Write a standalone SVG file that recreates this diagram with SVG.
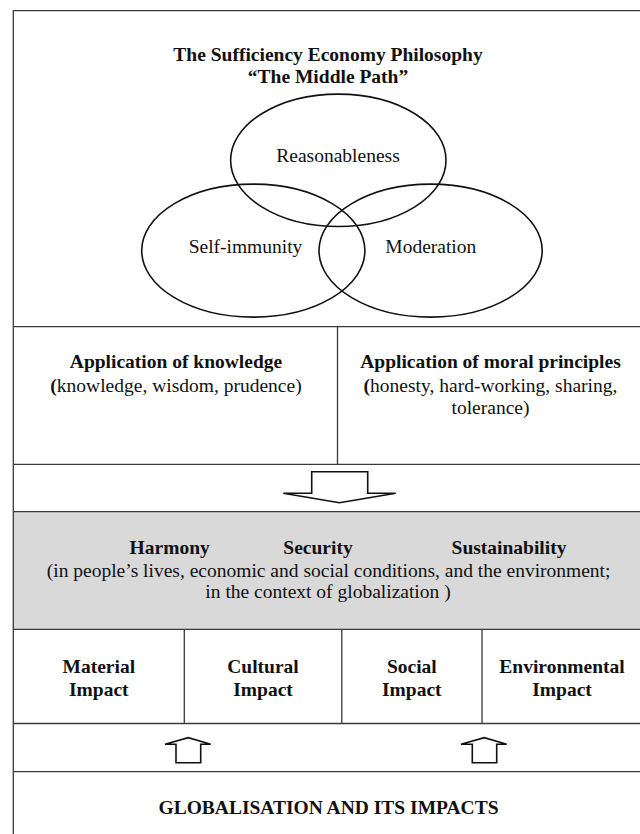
<svg xmlns="http://www.w3.org/2000/svg" width="640" height="834" viewBox="0 0 640 834">
<style>
text{font-family:"Liberation Serif","Times New Roman",serif;font-size:19.5px;fill:#111;text-anchor:middle}
.b{font-weight:bold}
.ln{stroke:#3a3a3a;stroke-width:1.3;fill:none}
.el{stroke:#111;stroke-width:1.6;fill:none}
.ar{stroke:#111;stroke-width:1.6;fill:#fff;stroke-linejoin:miter}
</style>
<rect width="640" height="834" fill="#fff"/>
<g id="frame">
<rect x="13.3" y="511.7" width="630" height="117.6" fill="#d9d9d9"/>
<path class="ln" d="M13.3,840 V10.7 H645"/>
<path class="ln" d="M13.3,326.7 H645 M13.3,464.3 H645 M13.3,511.7 H645 M13.3,629.3 H645 M13.3,723.5 H645 M13.3,771.7 H645"/>
</g>
<g id="philosophy">
<text class="b" x="328" y="61">The Sufficiency Economy Philosophy</text>
<text class="b" x="328" y="82.7">“The Middle Path”</text>
</g>
<g id="reasonableness">
<ellipse class="el" cx="338.3" cy="160.3" rx="107.7" ry="66.2"/>
<text x="338" y="161.7">Reasonableness</text>
</g>
<g id="self-immunity">
<ellipse class="el" cx="253.3" cy="250.6" rx="111.6" ry="66.5"/>
<text x="245.5" y="253.3">Self-immunity</text>
</g>
<g id="moderation">
<ellipse class="el" cx="430.6" cy="250.6" rx="111.6" ry="66.5"/>
<text x="430.8" y="253.3">Moderation</text>
</g>
<g id="knowledge">
<text class="b" x="176" y="368.3">Application of knowledge</text>
<text x="176" y="391.7"><tspan class="b">(</tspan>knowledge, wisdom, prudence)</text>
</g>
<g id="moral">
<path class="ln" d="M337.5,326.7 V464.3"/>
<text class="b" x="490.5" y="368.3">Application of moral principles</text>
<text x="490.5" y="391.7"><tspan class="b">(</tspan>honesty, hard-working, sharing,</text>
<text x="490.5" y="414.3">tolerance)</text>
</g>
<g id="outcomes">
<text class="b" x="169.7" y="553.5">Harmony</text>
<text class="b" x="318" y="553.5">Security</text>
<text class="b" x="509" y="553.5">Sustainability</text>
<text x="328.6" y="576.7">(in people’s lives, economic and social conditions, and the environment;</text>
<text x="328" y="598.3">in the context of globalization )</text>
</g>
<g id="impacts">
<path class="ln" d="M184.3,629.3 V723.5 M341.8,629.3 V723.5 M482,629.3 V723.5"/>
<g id="material"><text class="b" x="98.8" y="673.3">Material</text><text class="b" x="98.8" y="695.7">Impact</text></g>
<g id="cultural"><text class="b" x="263" y="673.3">Cultural</text><text class="b" x="263" y="695.7">Impact</text></g>
<g id="social"><text class="b" x="411.8" y="673.3">Social</text><text class="b" x="411.8" y="695.7">Impact</text></g>
<g id="environmental"><text class="b" x="562" y="673.3">Environmental</text><text class="b" x="562" y="695.7">Impact</text></g>
</g>
<g id="globalisation">
<text class="b" x="328.5" y="814.3">GLOBALISATION AND ITS IMPACTS</text>
</g>
<g id="connectors">
<path class="ar" d="M311.7,471.7 H367.7 V493.3 H395.7 L339.5,502.7 L283.3,493.3 H311.7 Z"/>
<path class="ar" d="M176,762.7 V744.3 H165 L188.3,737.7 L210.7,744.3 H200.7 V762.7 Z"/>
<path class="ar" d="M472.3,762.7 V744.3 H461 L484.3,737.7 L506.7,744.3 H496.7 V762.7 Z"/>
</g>
</svg>
